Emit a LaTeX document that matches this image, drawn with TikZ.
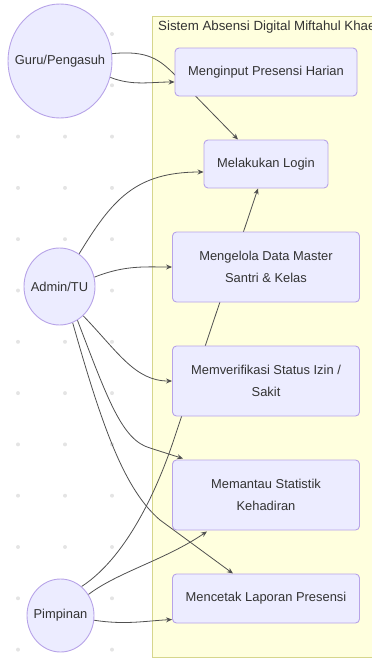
\documentclass[tikz,border=0pt]{standalone}
\usepackage{fontspec}
\setmainfont{Liberation Sans}
\usetikzlibrary{shapes.geometric,arrows.meta,calc}
\definecolor{nodefill}{HTML}{ECECFF}
\definecolor{nodeline}{HTML}{B7A3E8}
\definecolor{txt}{HTML}{333333}
\definecolor{sgfill}{HTML}{FFFFDE}
\definecolor{sgline}{HTML}{D6D68C}
\definecolor{edgec}{HTML}{505050}
\definecolor{dotc}{HTML}{E4E4E4}
\pgfdeclarelayer{bg}
\pgfsetlayers{bg,main}
\begin{document}
\begin{tikzpicture}[x=1pt,y=-1pt,
  lbl/.style={text=txt, font=\fontsize{12.9}{22}\selectfont},
  box/.style={lbl, draw=nodeline, fill=nodefill, rounded corners=4pt, line width=0.9pt,
    align=center, inner sep=0pt, minimum width=187pt, minimum height=70pt},
  actor/.style={ellipse, draw=nodeline, fill=nodefill, line width=0.9pt, inner sep=0pt},
  link/.style={draw=edgec, line width=0.8pt, -{Stealth[length=6pt,width=5pt]}},
  gdot/.style={fill=dotc, draw=none}
]
\useasboundingbox (0,0) rectangle (372,659);

% use case boxes
\node[box, minimum width=182pt, minimum height=48pt] (inp) at (266,72) {Menginput Presensi Harian};
\node[box, minimum width=124pt, minimum height=48pt] (login) at (266,164) {Melakukan Login};
\node[box] (master) at (266,267) {Mengelola Data Master\\Santri \& Kelas};
\node[box] (verif) at (266,381) {Memverifikasi Status Izin /\\Sakit};
\node[box] (stat) at (266,495) {Memantau Statistik\\Kehadiran};
\node[box, minimum height=49pt] (cetak) at (266,598.5) {Mencetak Laporan Presensi};

% actors
\node[actor, minimum width=104pt, minimum height=114pt, label={[lbl]center:Guru/Pengasuh}] (guru) at (60,61) {};
\node[actor, minimum width=71pt, minimum height=77pt, label={[lbl]center:Admin/TU}] (admin) at (59.5,286.5) {};
\node[actor, minimum width=67pt, minimum height=73pt, label={[lbl]center:Pimpinan}] (pimp) at (60.5,615.5) {};

\begin{pgfonlayer}{bg}
% background dot grid
\foreach \yy in {0,...,12}{
  \foreach \xx in {18,65,112}{
    \fill[gdot] (\xx,{34+51.3*\yy}) circle (2pt);
  }
}
% subgraph
\begin{scope}
\clip (0,0) rectangle (372,659);
\draw[fill=sgfill, draw=sgline, line width=0.8pt] (152,16) rectangle (400,657);
\node[text=txt, font=\fontsize{13.3}{16}\selectfont, anchor=west, inner sep=0pt] (title) at (158,27) {Sistem Absensi Digital Miftahul Khaer};
\end{scope}

% connectors
\coordinate (gl1) at (175,75);
\draw[link] (guru.8) .. controls (148,50) and (160,60) .. (gl1) -- ($(login.north)+(-28,0)$);
\draw[link] (guru.-18) .. controls (132,86) and (150,82) .. ($(inp.west)+(0,10)$);

\draw[link] (admin.59) .. controls (112,200) and (135,172) .. ($(login.west)+(0,8)$);
\draw[link] (admin.15) .. controls (125,265) and (145,267) .. (master.west);
\draw[link] (admin.-51) .. controls (118,352) and (135,381) .. (verif.west);
\coordinate (am1) at (150,448);
\draw[link] (admin.-62) .. controls (108,400) and (122,440) .. (am1) -- ($(stat.north)+(-83,-1)$);
\coordinate (ac1) at (160,520);
\draw[link] (admin.-70) .. controls (103,430) and (125,490) .. (ac1) -- ($(cetak.north)+(-33,0)$);

\coordinate (pl1) at (172,445);
\draw[link] (pimp.54) .. controls (130,555) and (160,480) .. (pl1) -- ($(login.south)+(-8,0)$);
\draw[link] (pimp.37) .. controls (118,572) and (165,560) .. ($(stat.south)+(-59,1)$);
\draw[link] (pimp.-8) .. controls (125,625) and (145,621) .. ($(cetak.west)+(0,21)$);
\end{pgfonlayer}

\end{tikzpicture}
\end{document}
